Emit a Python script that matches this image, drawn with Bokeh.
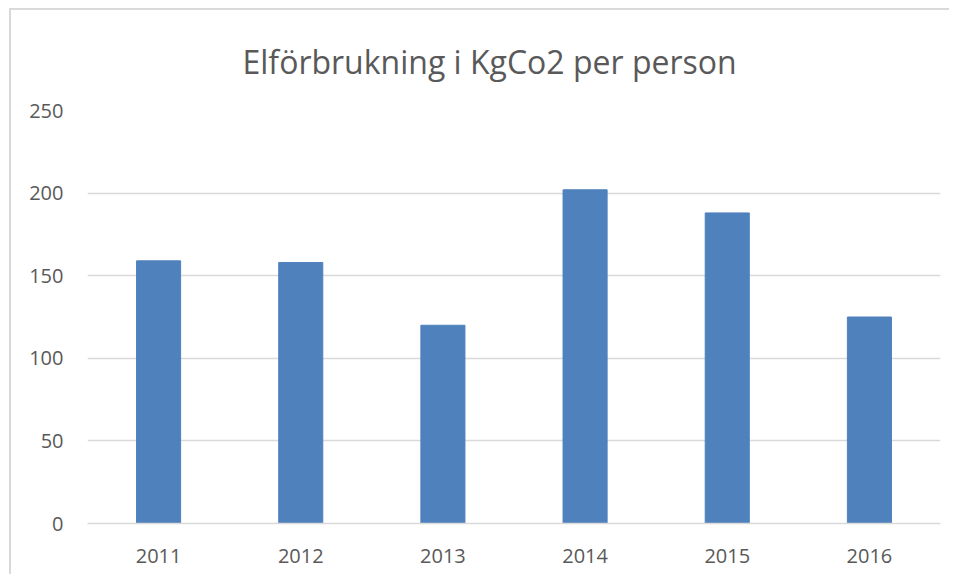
from bokeh.plotting import figure
from bokeh.embed import file_html
from bokeh.resources import INLINE
from bokeh.models import ColumnDataSource, FixedTicker

years = ["2011", "2012", "2013", "2014", "2015", "2016"]
values = [159, 158, 120, 202, 188, 125]
y_ticks = [0, 50, 100, 150, 200, 250]

src = ColumnDataSource(dict(year=years, value=values))

p = figure(x_range=years, y_range=(0, 250), width=940, height=566,
           output_backend="svg", toolbar_location=None,
           min_border_left=76, min_border_right=11, min_border_top=98,
           min_border_bottom=53)
p.styles = {"border-left": "2px solid #d9d9d9", "border-top": "2px solid #d9d9d9",
            "margin-left": "9px", "margin-top": "8px"}

p.vbar(x="year", top="value", width=0.31, source=src,
       fill_color="#4f81bd", line_color="#4f81bd")

p.title.text = "Elförbrukning i KgCo2 per person"
p.title.align = "left"
p.title.offset = 155
p.title.text_font = "Open Sans"
p.title.text_font_size = "32px"
p.title.text_font_style = "normal"
p.title.text_color = "#595959"
p.title.standoff = 55

p.outline_line_color = None
p.xgrid.grid_line_color = None
p.ygrid.grid_line_color = "#d9d9d9"
p.ygrid.grid_line_width = 1.5
p.yaxis.ticker = FixedTicker(ticks=y_ticks)

for ax in (p.xaxis, p.yaxis):
    ax.axis_line_color = None
    ax.major_tick_line_color = None
    ax.minor_tick_line_color = None
    ax.major_label_text_font = "Open Sans"
    ax.major_label_text_font_size = "20px"
    ax.major_label_text_color = "#595959"

p.xaxis.axis_line_color = "#d9d9d9"
p.xaxis.axis_line_width = 1.5
p.yaxis.major_label_standoff = 18
p.xaxis.major_label_standoff = 19

open("out.html", "w").write(file_html(p, INLINE))
